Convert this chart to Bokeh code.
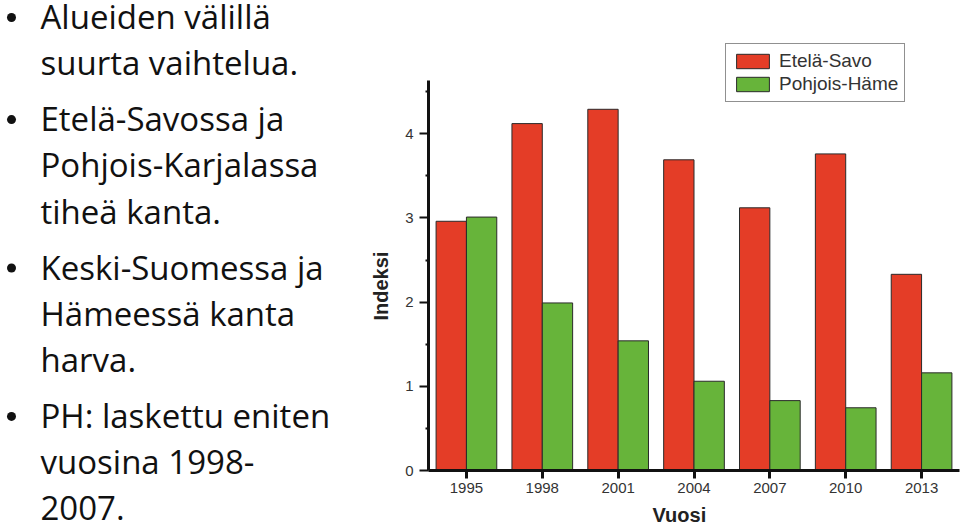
from bokeh.plotting import figure
from bokeh.layouts import row
from bokeh.models import ColumnDataSource, Range1d, FixedTicker, Legend, LegendItem, Title
from bokeh.transform import dodge
from bokeh.core.properties import value
from bokeh.embed import file_html
from bokeh.resources import INLINE

# ---------------- data ----------------
years = ["1995", "1998", "2001", "2004", "2007", "2010", "2013"]
etela_savo = [2.96, 4.12, 4.29, 3.69, 3.12, 3.76, 2.33]
pohjois_hame = [3.01, 1.99, 1.54, 1.06, 0.83, 0.745, 1.16]
series_names = ["Etelä-Savo", "Pohjois-Häme"]
y_ticks = [0, 1, 2, 3, 4]
x_title = "Vuosi"
y_title = "Indeksi"

bullets = [
    ["Alueiden välillä", "suurta vaihtelua."],
    ["Etelä-Savossa ja", "Pohjois-Karjalassa", "tiheä kanta."],
    ["Keski-Suomessa ja", "Hämeessä kanta", "harva."],
    ["PH: laskettu eniten", "vuosina 1998-", "2007."],
]

# ---------------- left text panel ----------------
LEFT_W = 357
TEXT_FONT = "Open Sans"
FIRST_BASE = 27
LINE_STEP = 46.3
BULLET_GAP = 9.5
TEXT_SHIFT = 11   # compensates the renderer's baseline placement

tx, ty, tt = [], [], []
bx, by = [], []
line_i = 0
for b_i, lines in enumerate(bullets):
    for j, line in enumerate(lines):
        yy = FIRST_BASE + LINE_STEP * line_i + BULLET_GAP * b_i
        if j == 0:
            bx.append(11)
            by.append(yy - 10)
        tx.append(40)
        ty.append(yy - TEXT_SHIFT)
        tt.append(line)
        line_i += 1

t = figure(width=LEFT_W, height=531, x_range=Range1d(0, LEFT_W), y_range=Range1d(531, 0),
           output_backend="svg", toolbar_location=None, min_border=0,
           x_axis_type=None, y_axis_type=None)
t.frame_align = False
t.outline_line_color = None
t.background_fill_color = "white"
t.border_fill_color = "white"
t.text(x=tx, y=ty, text=tt, text_font=value(TEXT_FONT), text_font_size="33px",
       text_color="#111111", text_baseline="alphabetic", text_align="left")
t.scatter(x=bx, y=by, size=9, marker="circle", fill_color="#111111", line_color=None)

# ---------------- chart ----------------
idx = list(range(len(years)))
src = ColumnDataSource(dict(x=idx, es=etela_savo, ph=pohjois_hame))

p = figure(width=960 - LEFT_W, height=531, x_range=Range1d(-0.5, len(years) - 0.5),
           y_range=Range1d(0, 5.107), output_backend="svg", toolbar_location=None,
           min_border_left=428 - LEFT_W, min_border_right=1, min_border_top=40,
           min_border_bottom=61)
p.frame_align = False
p.background_fill_color = "white"
p.border_fill_color = "white"
p.outline_line_color = None
p.grid.visible = False

RED = "#E43D27"
GREEN = "#67B43A"
r1 = p.vbar(x=dodge("x", -0.2, range=p.x_range), top="es", width=0.4, source=src,
            fill_color=RED, line_color="#2a2a2a", line_width=1)
r2 = p.vbar(x=dodge("x", 0.2, range=p.x_range), top="ph", width=0.4, source=src,
            fill_color=GREEN, line_color="#2a2a2a", line_width=1)

AX_FONT = "Liberation Sans"
for ax in (p.xaxis[0], p.yaxis[0]):
    ax.axis_line_width = 3
    ax.axis_line_color = "#111111"
    ax.major_tick_line_color = "#111111"
    ax.major_tick_in = 0
    ax.major_label_text_font = AX_FONT
    ax.major_label_text_font_size = "15px"
    ax.major_label_text_color = "#333333"

p.xaxis.ticker = FixedTicker(ticks=idx)
p.xaxis.major_label_overrides = {i: y for i, y in enumerate(years)}
p.xaxis.major_tick_out = 8
p.xaxis.major_tick_line_width = 3
p.xaxis.minor_tick_line_color = None
p.xaxis.major_label_standoff = 4
p.xaxis.major_label_text_line_height = 0.7

p.yaxis.ticker = FixedTicker(ticks=y_ticks, minor_ticks=[v + 0.5 for v in y_ticks])
p.yaxis.bounds = (0, 4.63)
p.yaxis.major_tick_out = 9
p.yaxis.major_tick_line_width = 2
p.yaxis.minor_tick_in = 0
p.yaxis.minor_tick_out = 3
p.yaxis.minor_tick_line_width = 2
p.yaxis.minor_tick_line_color = "#111111"
p.yaxis.major_label_standoff = 6

p.add_layout(Title(text=x_title, align="left", offset=224, standoff=12,
                   text_font=AX_FONT, text_font_size="20px", text_font_style="bold",
                   text_color="#222222"), "below")
p.add_layout(Title(text=y_title, align="left", offset=150, standoff=21,
                   text_font=AX_FONT, text_font_size="20px", text_font_style="bold",
                   text_color="#222222"), "left")

legend = Legend(items=[LegendItem(label=series_names[0], renderers=[r1]),
                       LegendItem(label=series_names[1], renderers=[r2])],
                location=(297, 368))
legend.border_line_color = "#222222"
legend.border_line_width = 1.5
legend.background_fill_color = "white"
legend.background_fill_alpha = 1
legend.label_text_font = AX_FONT
legend.label_text_font_size = "19px"
legend.label_text_color = "#333333"
legend.glyph_width = 41
legend.glyph_height = 18
legend.spacing = 1
legend.padding = 6
legend.margin = 0
legend.label_standoff = 6
p.add_layout(legend)

layout = row(t, p, spacing=0)
open("out.html", "w").write(file_html(layout, INLINE))
